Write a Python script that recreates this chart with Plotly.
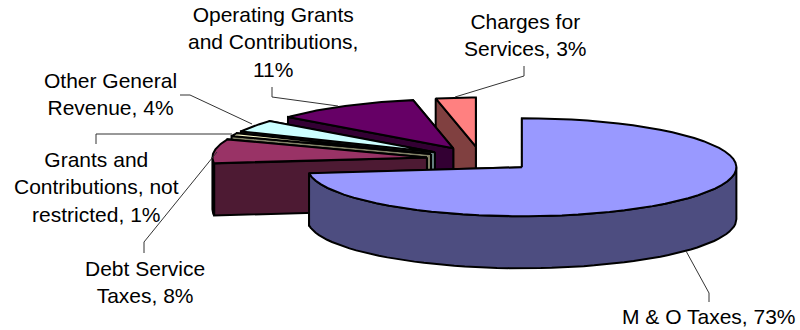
import numpy as np
import plotly.graph_objects as go

# Revenue shares, clockwise from twelve o'clock
categories = ["M & O Taxes", "Debt Service Taxes", "Grants and Contributions, not restricted",
              "Other General Revenue", "Operating Grants and Contributions", "Charges for Services"]
shares = [73, 8, 1, 4, 11, 3]
top_colors = ["#9999FF", "#993366", "#FFFFCC", "#CCFFFF", "#660066", "#FF8080"]
side_colors = ["#4D4D80", "#4D1A33", "#808066", "#668080", "#330033", "#804040"]

label_texts = ["M & O Taxes, 73%", "Debt Service<br>Taxes, 8%",
               "Grants and<br>Contributions, not<br>restricted, 1%",
               "Other General<br>Revenue, 4%", "Operating Grants<br>and Contributions,<br>11%",
               "Charges for<br>Services, 3%"]
label_x = [709, 144.5, 96, 110.5, 273, 525.5]
label_y = [316.5, 281.5, 187, 93.5, 42, 34.5]

leader_x = [[686, 709, 709], [144, 144, 217], [96, 96, 232], [180, 190, 252], [272, 272, 338], [524, 524, 455]]
leader_y = [[251, 293, 302], [253, 242, 152], [144, 134, 134], [95, 95, 124], [87, 97, 106], [66, 76, 97]]

# Projection of the tilted pie onto the page
CX, CY = 481.0, 159.0
RX, RY = 214.5, 49.0
DEPTH = 52.0
EXPLODE = 54.5


def rim(cx, cy, a0, a1, dy=0.0, n=60):
    t = np.radians(np.linspace(a0, a1, n))
    return cx + RX * np.sin(t), cy - RY * np.cos(t) + dy


def polygon(xs, ys, fill):
    return go.Scatter(x=list(xs), y=list(ys), mode="lines", fill="toself", fillcolor=fill,
                      line=dict(color="black", width=2), hoverinfo="skip", showlegend=False)


fig = go.Figure()
edges = np.cumsum([0] + shares) * 3.6
# Painted from the back of the pie forward, so nearer slices cover farther ones
for i in reversed(range(len(shares))):
    a0, a1 = edges[i], edges[i + 1]
    mid = np.radians((a0 + a1) / 2)
    cx = CX + EXPLODE * np.sin(mid)
    cy = CY - EXPLODE * RY / RX * np.cos(mid)
    tx, ty = rim(cx, cy, a0, a1)
    # Cut faces: the closing edge first, then the opening edge over it
    for k in (-1, 0):
        fig.add_trace(polygon([cx, tx[k], tx[k], cx, cx], [cy, ty[k], ty[k] + DEPTH, cy + DEPTH, cy], side_colors[i]))
    # The outer wall only shows on the near half of the rim
    w0, w1 = max(a0, 90.0), min(a1, 270.0)
    if w0 < w1:
        wx, wy = rim(cx, cy, w0, w1)
        bx, by = rim(cx, cy, w0, w1, DEPTH)
        fig.add_trace(polygon(np.r_[wx, bx[::-1], wx[0]], np.r_[wy, by[::-1], wy[0]], side_colors[i]))
    fig.add_trace(polygon(np.r_[cx, tx, cx], np.r_[cy, ty, cy], top_colors[i]))

for lx, ly in zip(leader_x, leader_y):
    fig.add_trace(go.Scatter(x=lx, y=ly, mode="lines", line=dict(color="#333333", width=1),
                             hoverinfo="skip", showlegend=False))

for text, x, y in zip(label_texts, label_x, label_y):
    fig.add_annotation(x=x, y=y, text=text, showarrow=False, xref="x", yref="y",
                       align="center", font=dict(family="Liberation Sans", size=21, color="black"))

fig.update_layout(width=800, height=330, margin=dict(l=0, r=0, t=0, b=0), autosize=False,
                  paper_bgcolor="white", plot_bgcolor="white",
                  xaxis=dict(range=[0, 800], visible=False, fixedrange=True),
                  yaxis=dict(range=[330, 0], visible=False, fixedrange=True))
fig.write_html("out.html", config=dict(displayModeBar=False))
